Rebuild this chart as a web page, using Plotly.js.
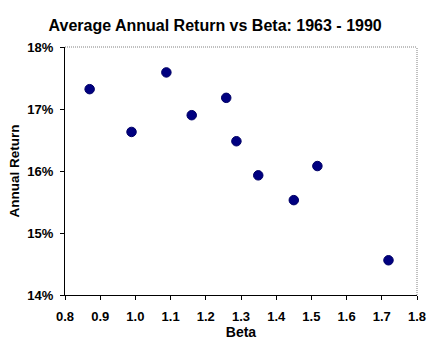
<!DOCTYPE html>
<html>
<head>
<meta charset="utf-8">
<script src="https://cdn.plot.ly/plotly-3.0.1.min.js"></script>
<style>html,body{margin:0;padding:0;background:#fff;}#chart{width:432px;height:346px;}</style>
</head>
<body>
<div id="chart"></div>
<script>
const betaValues = [0.870, 0.989, 1.088, 1.160, 1.258, 1.287, 1.349, 1.450, 1.517, 1.719];
const annualReturns = [0.1732, 0.1663, 0.1759, 0.1690, 0.1718, 0.1648, 0.1593, 0.1553, 0.1608, 0.1456];
const xTickVals = [0.8, 0.9, 1.0, 1.1, 1.2, 1.3, 1.4, 1.5, 1.6, 1.7, 1.8];
const yTickVals = [0.14, 0.15, 0.16, 0.17, 0.18];

const font = "Liberation Sans, Arial, sans-serif";
const trace = {
  x: betaValues, y: annualReturns, type: 'scatter', mode: 'markers',
  marker: {color: '#000080', size: 9.5, line: {color: '#000066', width: 1}},
  hoverinfo: 'none'
};
const layout = {
  width: 432, height: 346,
  margin: {l: 65, r: 15, t: 47, b: 51},
  paper_bgcolor: '#fff', plot_bgcolor: '#fff',
  showlegend: false,
  title: {text: '<b>Average Annual Return vs Beta: 1963 - 1990</b>', x: 0.498, xanchor: 'center', y: 0.926, yanchor: 'middle',
          font: {family: font, size: 16, color: '#000'}},
  xaxis: {range: [0.8, 1.8], tickvals: xTickVals, ticktext: xTickVals.map(v => '<b>' + v.toFixed(1) + '</b>'),
          showgrid: false, zeroline: false, showline: true, linecolor: '#000', linewidth: 1,
          ticks: 'outside', ticklen: 4, tickcolor: '#000', ticklabelstandoff: 5,
          tickfont: {family: font, size: 13, color: '#000'},
          title: {text: '<b>Beta</b>', font: {family: font, size: 14, color: '#000'}, standoff: 4}},
  yaxis: {range: [0.14, 0.18], tickvals: yTickVals,
          ticktext: yTickVals.map(v => '<b>' + Math.round(v * 100) + '%</b>'),
          showgrid: false, zeroline: false, showline: true, linecolor: '#000', linewidth: 1,
          ticks: 'outside', ticklen: 4, tickcolor: '#000', ticklabelstandoff: 4,
          tickfont: {family: font, size: 13, color: '#000'},
          title: {text: '<b>Annual Return</b>', font: {family: font, size: 13.5, color: '#000'}, standoff: 4}},
  shapes: [
    {type: 'line', xref: 'paper', yref: 'paper', x0: 0, x1: 1, y0: 1, y1: 1, line: {color: '#808080', width: 1, dash: '1px,1px'}},
    {type: 'line', xref: 'paper', yref: 'paper', x0: 1, x1: 1, y0: 0, y1: 1, line: {color: '#808080', width: 1, dash: '1px,1px'}}
  ]
};
Plotly.newPlot('chart', [trace], layout, {displayModeBar: false, staticPlot: true});
</script>
</body>
</html>
